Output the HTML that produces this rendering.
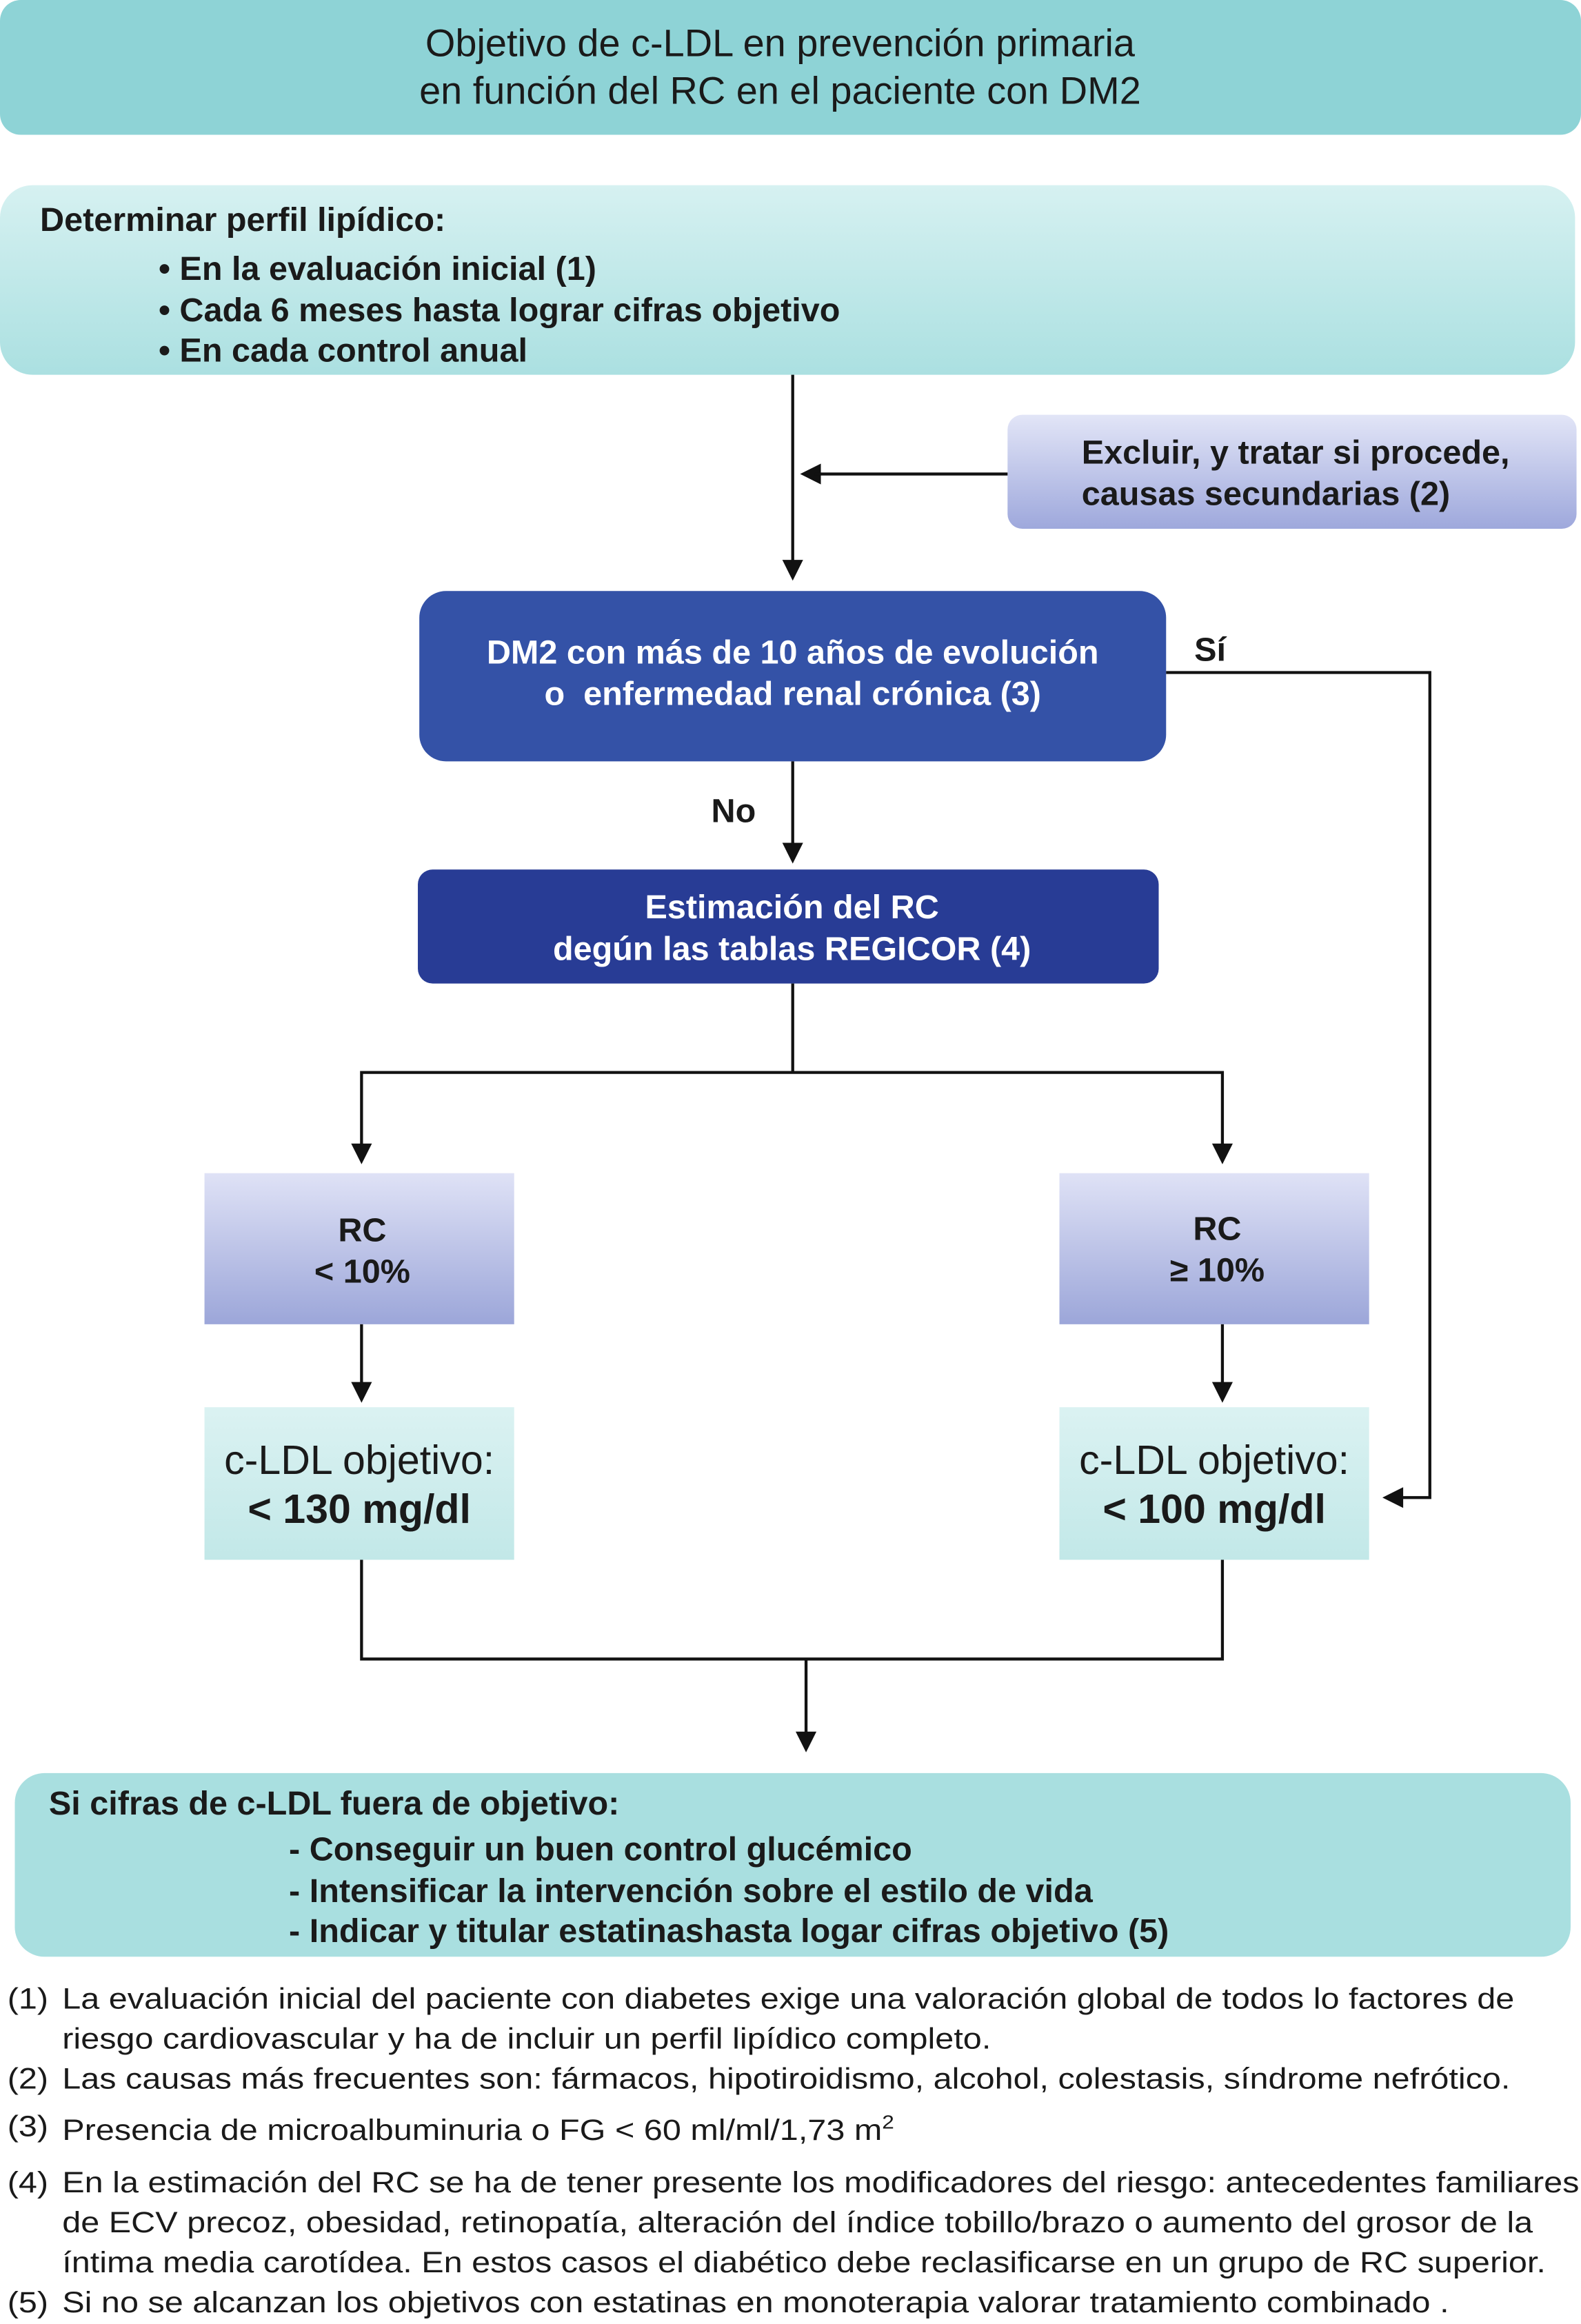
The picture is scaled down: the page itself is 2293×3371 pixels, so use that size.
<!DOCTYPE html>
<html><head><meta charset="utf-8">
<style>
html,body{margin:0;padding:0;background:#fff;}
body{width:2293px;height:3369px;overflow:hidden;position:relative;}
#w{position:absolute;left:0;top:0;width:1067px;height:1568px;transform:scale(2.149,2.1486);transform-origin:0 0;font-family:"Liberation Sans",Arial,sans-serif;color:#1a1a1a;}
.b{position:absolute;box-sizing:border-box;}
.t{position:absolute;white-space:nowrap;}
.bold{font-weight:bold;}
.c{text-align:center;}
.fn{transform:scaleX(1.13);transform-origin:0 0;}
</style></head><body><div id="w">

<div class="b" style="left:0;top:0;width:1067px;height:91px;background:#8ed3d6;border-radius:14px;"></div>
<div class="t c" style="left:0;width:1053px;top:13px;font-size:26px;line-height:32px;">Objetivo de c-LDL en prevención primaria<br>en función del RC en el paciente con DM2</div>

<div class="b" style="left:0;top:125px;width:1063px;height:128px;background:linear-gradient(#d6f1f1,#abe0e1);border-radius:22px;"></div>
<div class="t bold" style="left:27px;top:136px;font-size:22.6px;">Determinar perfil lipídico:</div>
<div class="t bold" style="left:107px;top:168px;font-size:22.6px;line-height:27.5px;">• En la evaluación inicial (1)<br>• Cada 6 meses hasta lograr cifras objetivo<br>• En cada control anual</div>

<div class="b" style="left:680px;top:280px;width:384px;height:77px;background:linear-gradient(#e2e5f7,#9ea8dc);border-radius:10px;"></div>
<div class="t bold" style="left:730px;top:292px;font-size:22.6px;line-height:28px;">Excluir, y tratar si procede,<br>causas secundarias (2)</div>

<div class="b" style="left:283px;top:399px;width:504px;height:115px;background:#3452a7;border-radius:18px;"></div>
<div class="t bold c" style="left:283px;width:504px;top:427px;font-size:22.6px;line-height:28px;color:#fff;">DM2 con más de 10 años de evolución<br>o&nbsp; enfermedad renal crónica (3)</div>

<div class="t bold" style="left:806px;top:426px;font-size:22.6px;">Sí</div>
<div class="t bold" style="left:480px;top:535px;font-size:22.6px;">No</div>

<div class="b" style="left:282px;top:587px;width:500px;height:77px;background:#283c95;border-radius:10px;"></div>
<div class="t bold c" style="left:282px;width:505px;top:599px;font-size:22.6px;line-height:28px;color:#fff;">Estimación del RC<br>degún las tablas REGICOR (4)</div>

<div class="b" style="left:138px;top:792px;width:209px;height:102px;background:linear-gradient(#dfe2f6,#9ca6d9);"></div>
<div class="t bold c" style="left:140px;width:209px;top:817px;font-size:22.6px;line-height:28px;">RC<br>&lt; 10%</div>
<div class="b" style="left:715px;top:792px;width:209px;height:102px;background:linear-gradient(#dfe2f6,#9ca6d9);"></div>
<div class="t bold c" style="left:717px;width:209px;top:816px;font-size:22.6px;line-height:28px;">RC<br>≥ 10%</div>

<div class="b" style="left:138px;top:950px;width:209px;height:103px;background:linear-gradient(#dbf2f2,#c2e8e8);"></div>
<div class="t c" style="left:138px;width:209px;top:969px;font-size:27.5px;line-height:33px;">c-LDL objetivo:<br><b>&lt; 130 mg/dl</b></div>
<div class="b" style="left:715px;top:950px;width:209px;height:103px;background:linear-gradient(#dbf2f2,#c2e8e8);"></div>
<div class="t c" style="left:715px;width:209px;top:969px;font-size:27.5px;line-height:33px;">c-LDL objetivo:<br><b>&lt; 100 mg/dl</b></div>

<div class="b" style="left:10px;top:1197px;width:1050px;height:124px;background:#a9dfe0;border-radius:20px;"></div>
<div class="t bold" style="left:33px;top:1205px;font-size:22.6px;">Si cifras de c-LDL fuera de objetivo:</div>
<div class="t bold" style="left:195px;top:1235px;font-size:22.6px;line-height:27.5px;">- Conseguir un buen control glucémico<br>- Intensificar la intervención sobre el estilo de vida<br>- Indicar y titular estatinashasta logar cifras objetivo (5)</div>

<svg class="b" style="left:0;top:0" width="1067" height="1568">
<g fill="#111">
<path d="M528,378 L542,378 L535,392z"/>
<path d="M540,320 L554,313 L554,327z"/>
<path d="M528,569 L542,569 L535,583z"/>
<path d="M237,772 L251,772 L244,786z"/>
<path d="M818,772 L832,772 L825,786z"/>
<path d="M237,933 L251,933 L244,947z"/>
<path d="M818,933 L832,933 L825,947z"/>
<path d="M933,1011 L947,1004 L947,1018z"/>
<path d="M537,1169 L551,1169 L544,1183z"/>
</g>
<g stroke="#111" stroke-width="2" fill="none">
<path d="M535,253 V380"/>
<path d="M680,320 H550"/>
<path d="M787,454 H965 V1011 H945"/>
<path d="M535,514 V572"/>
<path d="M535,664 V724 M244,724 H825 M244,723 V775 M825,723 V775"/>
<path d="M244,894 V936 M825,894 V936"/>
<path d="M244,1053 V1120 H825 V1053 M544,1120 V1172"/>
</g>
</svg>

<div class="t fn" style="left:5px;top:1337px;font-size:20px;line-height:27px;">(1)<br><br>(2)</div>
<div class="t fn" style="left:42px;top:1337px;font-size:20px;line-height:27px;">La evaluación inicial del paciente con diabetes exige una valoración global de todos lo factores de<br>riesgo cardiovascular y ha de incluir un perfil lipídico completo.<br>Las causas más frecuentes son: fármacos, hipotiroidismo, alcohol, colestasis, síndrome nefrótico.</div>
<div class="t fn" style="left:5px;top:1425px;font-size:20px;">(3)</div>
<div class="t fn" style="left:42px;top:1425px;font-size:20px;">Presencia de microalbuminuria o FG &lt; 60 ml/ml/1,73 m<sup style="font-size:13px">2</sup></div>
<div class="t fn" style="left:5px;top:1461px;font-size:20px;line-height:27px;">(4)<br><br><br>(5)</div>
<div class="t fn" style="left:42px;top:1461px;font-size:20px;line-height:27px;">En la estimación del RC se ha de tener presente los modificadores del riesgo: antecedentes familiares<br>de ECV precoz, obesidad, retinopatía, alteración del índice tobillo/brazo o aumento del grosor de la<br>íntima media carotídea. En estos casos el diabético debe reclasificarse en un grupo de RC superior.<br>Si no se alcanzan los objetivos con estatinas en monoterapia valorar tratamiento combinado .</div>

</div></body></html>
